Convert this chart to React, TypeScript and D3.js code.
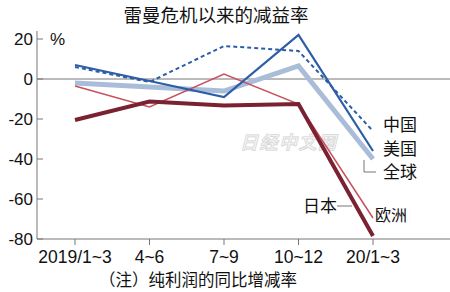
import React from "react";
import * as d3 from "d3";

const categories = ["2019/1~3", "4~6", "7~9", "10~12", "20/1~3"];
const yTicks = [20, 0, -20, -40, -60, -80];
const china = [6, -1.5, 16.5, 14, -26];
const usa = [7, -1, -9, 22, -36];
const world = [-2, -4, -6, 6.5, -40];
const europe = [-3.5, -14, 2.5, -12.5, -69.5];
const japan = [-20.5, -11.3, -13.3, -12.5, -78.5];

const title = "雷曼危机以来的减益率";
const note = "（注）纯利润的同比增减率";

const numFont = "'Liberation Sans Narrow', 'Liberation Sans', Arial, sans-serif";
const cjkFont = "'Noto Sans CJK SC', sans-serif";

export default function App() {
  const W = 450, H = 292;
  const x = d3.scalePoint<string>().domain(categories).range([75, 373]);
  const y = d3.scaleLinear().domain([-80, 20]).range([239, 39]);
  const line = d3.line<number>().x((_, i) => x(categories[i]) as number).y((d) => y(d));

  const series = [
    { data: world, color: "#a9bdd9", width: 5, dash: undefined },
    { data: europe, color: "#c8505c", width: 1.5, dash: undefined },
    { data: japan, color: "#7a2232", width: 4, dash: undefined },
    { data: china, color: "#2b5ea6", width: 2, dash: "4,3" },
    { data: usa, color: "#2b5ea6", width: 2.2, dash: undefined },
  ];

  return (
    <svg width={W} height={H} style={{ position: "absolute", left: 0, top: 0, background: "#fff" }}>
      <rect x={0} y={0} width={W} height={H} fill="#fff" />
      <text x={216} y={22} textAnchor="middle" fontFamily={cjkFont} fontSize={18.5} fill="#111">
        {title}
      </text>
      {/* zero line */}
      <line x1={37} x2={W} y1={y(0)} y2={y(0)} stroke="#777" strokeWidth={1} />
      {/* axes */}
      <line x1={37} x2={37} y1={31} y2={y(-80)} stroke="#777" strokeWidth={1} />
      <line x1={37} x2={W} y1={y(-80)} y2={y(-80)} stroke="#777" strokeWidth={1.2} />
      {yTicks.map((t) => (
        <g key={t}>
          <line x1={37} x2={43} y1={y(t)} y2={y(t)} stroke="#777" />
          <text x={33} y={y(t)} dy="0.35em" textAnchor="end" fontFamily={numFont} fontSize={17} fill="#111">
            {t}
          </text>
        </g>
      ))}
      <text x={50} y={y(20)} dy="0.35em" fontFamily={numFont} fontSize={17} fill="#111">%</text>
      {categories.map((c) => (
        <g key={c}>
          <line x1={x(c)} x2={x(c)} y1={y(-80)} y2={y(-80) + 6} stroke="#777" />
          <text x={x(c)} y={263} textAnchor="middle" fontFamily={numFont} fontSize={17.5} fill="#111">
            {c}
          </text>
        </g>
      ))}
      <text x={99} y={286} fontFamily={cjkFont} fontSize={16.5} fill="#111">{note}</text>
      {/* watermark */}
      <text x={240} y={149} fontFamily={cjkFont} fontSize={18} fontStyle="italic" fontWeight="bold" fill="#f4f4f4" stroke="#d4d4d4" strokeWidth={0.7} letterSpacing={1.5}>
        日经中文网
      </text>
      {series.map((s, i) => (
        <path key={i} d={line(s.data) || ""} fill="none" stroke={s.color} strokeWidth={s.width}
          strokeDasharray={s.dash} strokeLinejoin="miter" />
      ))}
      {/* legend labels */}
      <text x={383} y={125} dy="0.35em" fontFamily={cjkFont} fontSize={17} fill="#111">中国</text>
      <text x={383} y={149} dy="0.35em" fontFamily={cjkFont} fontSize={17} fill="#111">美国</text>
      <text x={383} y={172} dy="0.35em" fontFamily={cjkFont} fontSize={17} fill="#111">全球</text>
      <path d="M364,160 V172 H376" fill="none" stroke="#777" strokeWidth={1} />
      <text x={303} y={206} dy="0.35em" fontFamily={cjkFont} fontSize={17} fill="#111">日本</text>
      <line x1={337} x2={352} y1={206} y2={206} stroke="#777" strokeWidth={1} />
      <text x={375} y={215} dy="0.35em" fontFamily={cjkFont} fontSize={16} fill="#111">欧洲</text>
    </svg>
  );
}
